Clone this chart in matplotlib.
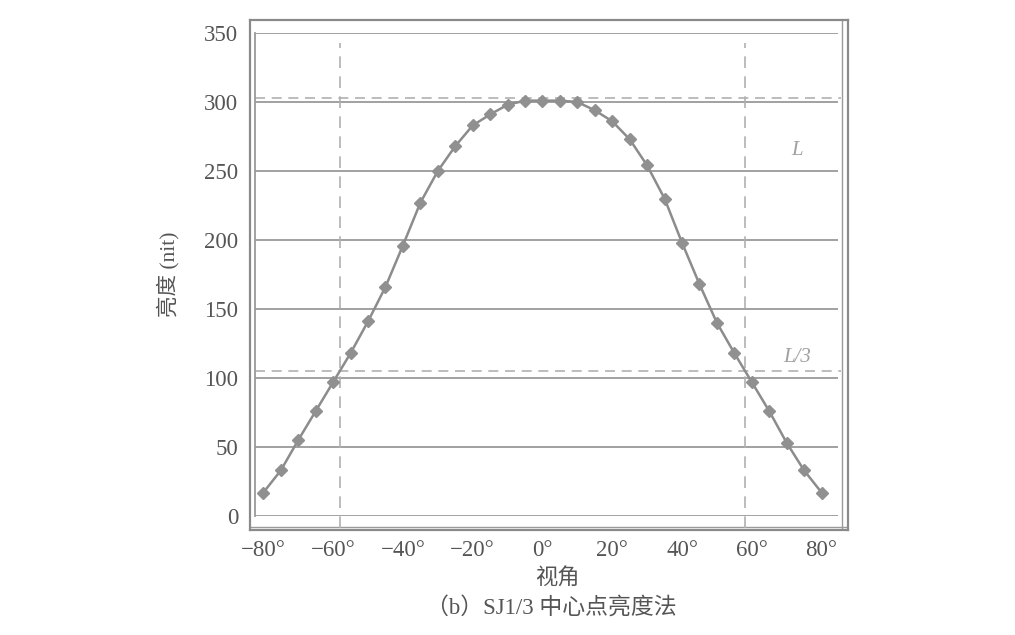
import matplotlib
matplotlib.use('Agg')
import matplotlib.pyplot as plt

# viewing angle (deg) and luminance (nit)
angle = [-80, -75, -70, -65, -60, -55, -50, -45, -40, -35, -30, -25, -20, -15, -10, -5, 0,
         5, 10, 15, 20, 25, 30, 35, 40, 45, 50, 55, 60, 65, 70, 75, 80]
lum = [17, 33, 55, 76, 97, 118, 141, 166, 196, 227, 250, 268, 283, 291, 298, 301, 301,
       301, 300, 294, 286, 273, 254, 230, 198, 168, 140, 118, 97, 76, 53, 33, 17]

L_peak = 303
L_third = 105
cross_angles = [-58, 58]

xticks = [-80, -60, -40, -20, 0, 20, 40, 60, 80]
xticklabels = ['\u221280\u00b0', '\u221260\u00b0', '\u221240\u00b0', '\u221220\u00b0', '0\u00b0',
               '20\u00b0', '40\u00b0', '60\u00b0', '80\u00b0']
yticks = [0, 50, 100, 150, 200, 250, 300, 350]

fam = ['Liberation Serif', 'Noto Sans CJK SC']
plt.rcParams['font.family'] = fam
txt = '#555555'
grid_c = '#9a9a9a'
dash_c = '#b0b0b0'

fig = plt.figure(figsize=(10.15, 6.35), dpi=100)

# outer box (double line on right and bottom like the scan)
outer = fig.add_axes([0.2463, 0.1654, 0.5892, 0.8031])
outer.set_xticks([])
outer.set_yticks([])
for s in outer.spines.values():
    s.set_color('#8a8a8a')
    s.set_linewidth(1.6)
outer.axvline(0.99, color='#9a9a9a', linewidth=1.0)
outer.axhline(0.006, color='#9a9a9a', linewidth=1.0)
outer.set_xlim(0, 1)
outer.set_ylim(0, 1)
outer.patch.set_alpha(0)

ax = fig.add_axes([0.2512, 0.1874, 0.5744, 0.7606])
ax.patch.set_alpha(0)
ax.set_xlim(-82.4, 84.7)
ax.set_ylim(0, 350)

for s in ['top', 'right', 'bottom']:
    ax.spines[s].set_visible(False)
ax.spines['left'].set_color(grid_c)
ax.spines['left'].set_linewidth(1.3)

ax.yaxis.grid(True, color=grid_c, linewidth=1.3)
ax.set_axisbelow(True)

ax.set_yticks(yticks)
ax.set_xticks(xticks)
ax.set_xticklabels(xticklabels)
ax.tick_params(axis='y', length=0, pad=12, labelsize=16.5, labelcolor=txt)
ax.tick_params(axis='x', length=0, pad=17, labelsize=16.5, labelcolor=txt)

# reference lines
ax.axhline(L_peak, xmin=0.0, xmax=1.005, color=dash_c, linestyle=(0, (6, 4)), linewidth=1.2, clip_on=False)
ax.axhline(L_third, xmin=0.0, xmax=1.005, color=dash_c, linestyle=(0, (6, 4)), linewidth=1.2, clip_on=False)
for a in cross_angles:
    ax.axvline(a, ymin=-0.025, ymax=0.98, color=dash_c, linestyle=(0, (7, 5)), linewidth=1.2, clip_on=False)

ax.text(73, 258, 'L', fontsize=15, style='italic', color='#a0a0a0', ha='center', va='bottom')
ax.text(73, 108, 'L/3', fontsize=15, style='italic', color='#a0a0a0', ha='center', va='bottom')

ax.plot(angle, lum, color='#8c8c8c', linewidth=1.8, marker='D', markersize=6.5,
        markerfacecolor='#909090', markeredgecolor='#909090', zorder=3)

ax.set_ylabel('亮度 (nit)', fontsize=15.5, color=txt, labelpad=18)
fig.text(0.549, 0.089, '视角', fontsize=16, color=txt, ha='center', va='center')
fig.text(0.543, 0.043, '（b）SJ1/3 中心点亮度法', fontsize=16.5, color=txt, ha='center', va='center')

fig.savefig('out.png', dpi=100)
